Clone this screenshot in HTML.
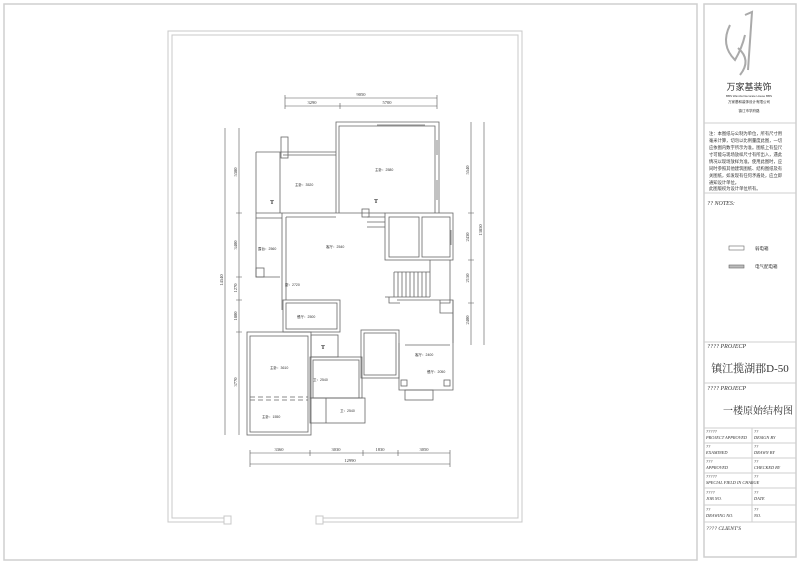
<!DOCTYPE html>
<html><head><meta charset="utf-8"><style>
html,body{margin:0;padding:0;background:#fff;}
svg{display:block;}
text{font-family:"Liberation Serif","Noto Serif CJK SC",serif;fill:#333;}
.c{font-family:"Liberation Sans","Noto Sans CJK SC",sans-serif;}
</style></head><body>
<svg width="800" height="565" viewBox="0 0 800 565" xmlns="http://www.w3.org/2000/svg">
<g fill="none" stroke="#cfcfcf" stroke-width="1.5">
<rect x="4" y="4" width="693" height="556"/>
<rect x="704" y="4" width="92" height="553"/>
</g>
<!-- plan frame -->
<g fill="none" stroke="#c8c8c8" stroke-width="1">
<path d="M224,522 H168 V31 H522 V522 H323"/>
<path d="M224,518 H172 V35 H518 V518 H323"/>
<rect x="224" y="516" width="7" height="8"/>
<rect x="316" y="516" width="7" height="8"/>
</g>
<!-- dimensions -->
<g stroke="#555" stroke-width="0.6" fill="none">
<path d="M285,98 H437 M285,106 H437 M340,103 V109 M285,95 V109 M437,95 V109"/>
<path d="M250,453 H450 M250,464 H450 M250,450 V467 M310,450 V456 M363,450 V456 M398,450 V456 M450,450 V467"/>
<path d="M239,128 V435 M225,128 V435 M471,122 V345 M484,122 V345"/>
<path d="M236,213 H242 M236,277 H242 M236,300 H242 M236,332 H242 M468,213 H474 M468,260 H474 M468,303 H474"/>
</g>
<g font-size="4.5" text-anchor="middle">
<text x="361" y="96">9050</text><text x="312" y="104">3290</text><text x="387" y="104">5700</text>
<text x="279" y="451">3360</text><text x="336" y="451">3030</text><text x="380" y="451">1830</text><text x="424" y="451">3050</text>
<text x="350" y="462">12990</text>
<text transform="translate(237,172) rotate(-90)">5380</text>
<text transform="translate(237,245) rotate(-90)">3400</text>
<text transform="translate(237,288) rotate(-90)">1270</text>
<text transform="translate(237,316) rotate(-90)">1800</text>
<text transform="translate(237,382) rotate(-90)">3770</text>
<text transform="translate(223,280) rotate(-90)">14540</text>
<text transform="translate(469,170) rotate(-90)">5540</text>
<text transform="translate(469,237) rotate(-90)">2430</text>
<text transform="translate(469,278) rotate(-90)">2150</text>
<text transform="translate(469,320) rotate(-90)">2400</text>
<text transform="translate(482,230) rotate(-90)">13850</text>
</g>
<!-- walls -->
<g fill="none" stroke="#666" stroke-width="0.8">
<path d="M336,213 V122 H439 V213"/><path d="M339,213 V126 H435 V213"/>
<path d="M377,125 H425 M437,140 V155 M437,180 V200"/>
<path d="M256,152 H336 M280,152 V213 M283,155 H336"/>
<rect x="281" y="137" width="7" height="21"/>
<path d="M256,152 V277 H280 M256,213 H282 M256,218 H282"/>
<rect x="256" y="268" width="8" height="9"/>
<path d="M282,213 V310 M286,217 V300 M282,213 H385 M286,217 H336 M340,213 H385 M294,213 H308"/>
<rect x="362" y="209" width="7" height="8"/>
<path d="M367,217 H385 M367,222 H385 M367,227 H385"/>
<rect x="385" y="213" width="68" height="47"/>
<rect x="389" y="217" width="30" height="40"/><rect x="422" y="217" width="28" height="40"/>
<path d="M451,230 V245"/>
<path d="M450,260 V303 H440 M430,260 V297 M385,297 H430 M389,297 V303 H400"/>
<path d="M394,272 V297 M398,272 V297 M402,272 V297 M406,272 V297 M410,272 V297 M414,272 V297 M418,272 V297 M422,272 V297 M426,272 V297 M394,272 H430"/>
<rect x="283" y="300" width="57" height="32"/><rect x="286" y="303" width="51" height="26"/>
<rect x="247" y="332" width="64" height="103"/><rect x="250" y="336" width="58" height="96"/>
<path d="M250,397 H308 M250,400 H308" stroke-dasharray="5,3"/>
<rect x="311" y="335" width="27" height="22"/>
<rect x="310" y="357" width="52" height="41"/><rect x="313" y="360" width="46" height="38"/>
<rect x="310" y="398" width="55" height="25"/><path d="M326,398 V423"/>
<rect x="361" y="330" width="38" height="48"/><rect x="364" y="333" width="32" height="42"/>
<path d="M397,300 H453 V343 M440,300 V313 H453"/>
<path d="M399,343 V390 H453 V300"/><path d="M405,345 H450"/>
<rect x="401" y="380" width="6" height="6"/><rect x="444" y="380" width="6" height="6"/>
<rect x="405" y="390" width="28" height="10"/>
</g>
<g font-size="3.5" class="c" fill="#444">
<text x="375" y="171" class="c">主卧：2580</text>
<text x="295" y="186" class="c">主卧：3520</text>
<text x="326" y="248" class="c">客厅：2540</text>
<text x="258" y="250" class="c">露台：2560</text>
<text x="285" y="286" class="c">厨：2720</text>
<text x="297" y="318" class="c">餐厅：2500</text>
<text x="270" y="369" class="c">主卧：3610</text>
<text x="262" y="418" class="c">主卧：1550</text>
<text x="313" y="381" class="c">卫：2540</text>
<text x="340" y="412" class="c">卫：2540</text>
<text x="415" y="356" class="c">客厅：2400</text>
<text x="427" y="373" class="c">餐厅：2050</text>
</g>
<g font-size="6" font-weight="bold" text-anchor="middle"><text x="272" y="204">T</text><text x="376" y="203">T</text><text x="323" y="349">T</text></g>
<!-- title block -->
<g fill="none" stroke="#cfcfcf" stroke-width="1">
<path d="M704,123 H796 M704,193 H796 M704,342 H796 M704,383 H796 M704,428 H796 M704,443 H796 M704,458 H796 M704,473 H796 M704,488 H796 M704,505 H796 M704,522 H796 M752,428 V522"/>
</g>
<path d="M730,25 Q720,45 735,60 Q742,48 745,35 M738,48 Q752,60 740,75 M745,15 L752,12 L748,70" stroke="#aaa" fill="none" stroke-width="2"/>
<text x="749" y="90" font-size="9" text-anchor="middle" fill="#888" class="c">万家基装饰</text>
<text x="749" y="97" font-size="3" text-anchor="middle" class="c">BBS WanJia Decorate House BBS</text>
<text x="749" y="103" font-size="3.5" text-anchor="middle" class="c">万家基和装饰设计有限公司</text>
<text x="749" y="112" font-size="3.5" text-anchor="middle" class="c">镇江市学府路</text>
<g font-size="4.3" class="c">
<text x="709" y="135" class="c">注：本图纸与公制为单位，所有尺寸用</text>
<text x="709" y="142" class="c">毫米计算，切勿以比例量度此图，一切</text>
<text x="709" y="149" class="c">应依图内数字所示为准。图纸上有些尺</text>
<text x="709" y="156" class="c">寸可能与现场放样尺寸有所出入，遇此</text>
<text x="709" y="163" class="c">情况以现场放样为准。使用此图时，应</text>
<text x="709" y="170" class="c">同时参照其他建筑图纸、结构图纸及有</text>
<text x="709" y="177" class="c">关图纸，如发现有任何矛盾处，应立即</text>
<text x="709" y="184" class="c">通知设计单位。</text>
<text x="709" y="190" class="c">此图版权为设计单位所有。</text>
</g>
<text x="707" y="205" font-size="6" font-style="italic" fill="#999">??     NOTES:</text>
<rect x="729" y="246" width="15" height="4" fill="none" stroke="#666" stroke-width="0.6"/>
<text x="755" y="250" font-size="4.5" class="c">弱电箱</text>
<rect x="729" y="265" width="15" height="3" fill="#bbb" stroke="#666" stroke-width="0.6"/>
<text x="755" y="268" font-size="4.5" class="c">电气配电箱</text>
<text x="707" y="348" font-size="6" font-style="italic" fill="#999">????   PROJECP</text>
<text x="750" y="372" font-size="11" text-anchor="middle">镇江揽湖郡D-50</text>
<text x="707" y="390" font-size="6" font-style="italic" fill="#999">????   PROJECP</text>
<text x="758" y="414" font-size="10" text-anchor="middle">一楼原始结构图</text>
<g font-size="4.3" font-style="italic" fill="#666">
<text x="706" y="433">?????</text><text x="706" y="439">PROJECT APPROVED</text><text x="754" y="433">??</text><text x="754" y="439">DESIGN BY</text>
<text x="706" y="448">??</text><text x="706" y="454">EXAMINED</text><text x="754" y="448">??</text><text x="754" y="454">DRAWN BY</text>
<text x="706" y="463">???</text><text x="706" y="469">APPROVED</text><text x="754" y="463">??</text><text x="754" y="469">CHECKED BY</text>
<text x="706" y="478">?????</text><text x="706" y="484">SPECIAL FIELD IN CHARGE</text><text x="754" y="478">??</text>
<text x="706" y="494">????</text><text x="706" y="500">JOB NO.</text><text x="754" y="494">??</text><text x="754" y="500">DATE</text>
<text x="706" y="511">??</text><text x="706" y="517">DRAWING NO.</text><text x="754" y="511">??</text><text x="754" y="517">NO.</text>
</g>
<text x="706" y="530" font-size="5.5" font-style="italic" fill="#999">????    CLIENT'S</text>
</svg>
</body></html>
